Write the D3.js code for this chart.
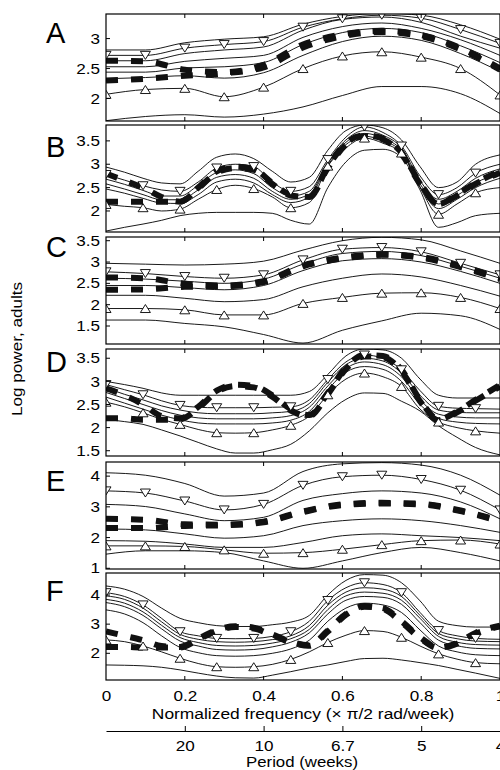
<!DOCTYPE html>
<html>
<head>
<meta charset="utf-8">
<script src="https://cdn.jsdelivr.net/npm/d3@7"></script>
<style>
  body { margin: 0; background: #fff; }
  svg { display: block; font-family: "Liberation Sans", Arial, sans-serif; }
</style>
</head>
<body>
<svg id="chart" width="500" height="770"></svg>
<script>
// frequency grids (x 0..1, units of pi/2 rad/week)
const freq11 = [0, 0.1, 0.2, 0.3, 0.4, 0.5, 0.6, 0.7, 0.8, 0.9, 1];
const freq22 = [0, 0.047, 0.094, 0.141, 0.188, 0.234, 0.281, 0.328, 0.375, 0.422, 0.469,
                0.516, 0.563, 0.609, 0.656, 0.703, 0.75, 0.797, 0.844, 0.891, 0.938, 1];

const xTicks = [0, 0.2, 0.4, 0.6, 0.8, 1];
const periodFreqs = [0.2, 0.4, 0.6, 0.8, 1];
const periodLabels = ['20', '10', '6.7', '5', '4'];

const yTicksA = [2, 2.5, 3];
const yTicksB = [2, 2.5, 3, 3.5];
const yTicksC = [1.5, 2, 2.5, 3, 3.5];
const yTicksD = [1.5, 2, 2.5, 3, 3.5];
const yTicksE = [1, 2, 3, 4];
const yTicksF = [2, 3, 4];

// thin quantile curves, top to bottom (2nd = down triangles, 2nd last = up triangles)
const linesA = [
  [2.81, 2.81, 2.93, 2.99, 3.03, 3.24, 3.37, 3.42, 3.39, 3.23, 2.99],
  [2.72, 2.72, 2.84, 2.9, 2.95, 3.19, 3.33, 3.39, 3.34, 3.15, 2.92],
  [2.63, 2.63, 2.75, 2.81, 2.86, 3.14, 3.32, 3.36, 3.27, 3.04, 2.84],
  [2.53, 2.53, 2.62, 2.67, 2.72, 3.02, 3.2, 3.26, 3.17, 2.98, 2.72],
  [2.44, 2.44, 2.51, 2.53, 2.6, 2.9, 3.1, 3.17, 3.1, 2.88, 2.6],
  [2.33, 2.35, 2.38, 2.34, 2.43, 2.72, 2.95, 3.04, 2.97, 2.75, 2.45],
  [2.07, 2.15, 2.17, 2.03, 2.19, 2.5, 2.71, 2.78, 2.69, 2.5, 2.06],
  [1.63, 1.7, 1.73, 1.69, 1.74, 1.86, 2.05, 2.2, 2.2, 2.08, 1.75]
];
const dashA = [
  [2.63, 2.62, 2.48, 2.44, 2.56, 2.9, 3.07, 3.13, 3.06, 2.84, 2.5],
  [2.3, 2.33, 2.38, 2.42, 2.52, 2.85, 3.04, 3.11, 3.04, 2.82, 2.48]
];

const linesB = [
  [2.94, 2.83, 2.7, 2.6, 2.58, 2.85, 3.15, 3.22, 3.12, 2.85, 2.62, 2.72, 3.3, 3.72, 3.84, 3.78, 3.52, 2.95, 2.5, 2.62, 3.0, 3.2],
  [2.78, 2.66, 2.54, 2.45, 2.42, 2.62, 2.92, 3.0, 2.95, 2.62, 2.42, 2.52, 3.1, 3.58, 3.8, 3.68, 3.39, 2.75, 2.35, 2.5, 2.81, 3.0],
  [2.68, 2.57, 2.44, 2.32, 2.32, 2.55, 2.82, 2.88, 2.8, 2.5, 2.32, 2.42, 3.05, 3.52, 3.72, 3.62, 3.35, 2.65, 2.25, 2.42, 2.7, 2.9],
  [2.58, 2.47, 2.35, 2.24, 2.24, 2.45, 2.72, 2.78, 2.7, 2.42, 2.25, 2.36, 3.02, 3.47, 3.66, 3.56, 3.3, 2.58, 2.15, 2.33, 2.6, 2.8],
  [2.47, 2.38, 2.27, 2.17, 2.16, 2.35, 2.62, 2.68, 2.6, 2.35, 2.18, 2.3, 2.98, 3.42, 3.6, 3.5, 3.27, 2.52, 2.05, 2.25, 2.5, 2.7],
  [2.14, 2.1, 2.07, 2.0, 2.04, 2.25, 2.46, 2.55, 2.48, 2.3, 2.07, 2.18, 2.96, 3.35, 3.56, 3.45, 3.24, 2.5, 1.93, 2.15, 2.39, 2.5],
  [1.57, 1.65, 1.72, 1.8, 1.9, 1.95, 1.97, 1.97, 1.97, 1.95, 1.8, 1.72, 2.5, 3.05, 3.3, 3.32, 3.15, 2.45, 1.65, 1.75, 1.9, 1.95]
];
const dashB = [
  [2.8, 2.65, 2.5, 2.3, 2.2, 2.5, 2.85, 2.95, 2.9, 2.6, 2.35, 2.3, 2.95, 3.45, 3.62, 3.55, 3.25, 2.6, 2.15, 2.35, 2.6, 2.85],
  [2.2, 2.2, 2.2, 2.2, 2.2, 2.48, 2.82, 2.92, 2.88, 2.58, 2.33, 2.3, 2.92, 3.42, 3.6, 3.53, 3.22, 2.58, 2.15, 2.33, 2.58, 2.82]
];

const linesC = [
  [2.97, 2.95, 2.93, 2.95, 3.02, 3.28, 3.5, 3.58, 3.52, 3.26, 2.97],
  [2.77, 2.73, 2.66, 2.62, 2.7, 3.05, 3.3, 3.34, 3.24, 2.97, 2.7],
  [2.62, 2.6, 2.55, 2.5, 2.6, 2.95, 3.2, 3.25, 3.15, 2.9, 2.62],
  [2.45, 2.45, 2.4, 2.35, 2.45, 2.8, 3.03, 3.08, 3.0, 2.78, 2.5],
  [2.22, 2.22, 2.15, 2.07, 2.12, 2.42, 2.62, 2.72, 2.65, 2.45, 2.2],
  [1.91, 1.91, 1.88, 1.76, 1.76, 2.03, 2.17, 2.27, 2.28, 2.17, 1.91],
  [1.64, 1.64, 1.56, 1.48, 1.3, 1.1, 1.4, 1.62, 1.8, 1.74, 1.42]
];
const dashC = [
  [2.64, 2.62, 2.49, 2.45, 2.55, 2.92, 3.1, 3.18, 3.12, 2.9, 2.62],
  [2.35, 2.36, 2.42, 2.43, 2.53, 2.9, 3.08, 3.17, 3.1, 2.88, 2.6]
];

const linesD = [
  [3.0, 2.93, 2.85, 2.75, 2.7, 2.7, 2.7, 2.7, 2.7, 2.7, 2.7, 2.78, 3.15, 3.55, 3.7, 3.68, 3.5, 3.05, 2.7, 2.64, 2.64, 2.64],
  [2.93, 2.82, 2.71, 2.58, 2.48, 2.44, 2.43, 2.43, 2.43, 2.44, 2.45, 2.6, 3.04, 3.42, 3.57, 3.5, 3.25, 2.8, 2.46, 2.42, 2.41, 2.4],
  [2.86, 2.72, 2.6, 2.47, 2.38, 2.32, 2.3, 2.3, 2.3, 2.32, 2.35, 2.52, 2.98, 3.36, 3.5, 3.44, 3.18, 2.7, 2.38, 2.33, 2.32, 2.32],
  [2.76, 2.63, 2.5, 2.37, 2.27, 2.21, 2.19, 2.19, 2.19, 2.21, 2.26, 2.44, 2.9, 3.28, 3.42, 3.36, 3.1, 2.6, 2.29, 2.23, 2.21, 2.21],
  [2.66, 2.53, 2.4, 2.27, 2.17, 2.1, 2.08, 2.08, 2.08, 2.1, 2.16, 2.35, 2.82, 3.2, 3.32, 3.26, 3.0, 2.5, 2.2, 2.12, 2.09, 2.08],
  [2.55, 2.45, 2.32, 2.18, 2.07, 1.96, 1.89, 1.88, 1.89, 1.95, 2.05, 2.25, 2.71, 3.05, 3.18, 3.1, 2.89, 2.4, 2.12, 2.0, 1.93, 1.88],
  [2.18, 2.13, 2.07, 1.95, 1.82, 1.68, 1.54, 1.45, 1.45, 1.52, 1.64, 1.93, 2.32, 2.61, 2.75, 2.74, 2.57, 2.36, 2.04, 1.79, 1.57, 1.41]
];
const dashD = [
  [2.85, 2.7, 2.5, 2.25, 2.2, 2.45, 2.8, 2.93, 2.9, 2.7, 2.4, 2.27, 2.75, 3.3, 3.57, 3.55, 3.25, 2.6, 2.18, 2.35, 2.6, 2.92],
  [2.2, 2.2, 2.17, 2.17, 2.18, 2.42, 2.77, 2.9, 2.87, 2.67, 2.37, 2.25, 2.72, 3.27, 3.54, 3.52, 3.22, 2.57, 2.16, 2.33, 2.58, 2.89]
];

const linesE = [
  [4.11, 4.03, 3.76, 3.35, 3.45, 4.15, 4.4, 4.44, 4.36, 4.03, 3.38],
  [3.52, 3.45, 3.19, 2.9, 3.08, 3.7, 3.98, 4.03, 3.89, 3.54, 2.9],
  [3.08, 3.01, 2.77, 2.55, 2.66, 3.21, 3.43, 3.52, 3.45, 3.16, 2.61],
  [2.28, 2.25, 2.12, 1.98, 2.06, 2.39, 2.55, 2.61, 2.55, 2.39, 2.17],
  [1.9, 1.88, 1.79, 1.68, 1.68, 1.84, 2.06, 2.12, 2.06, 2.0, 1.9],
  [1.73, 1.73, 1.71, 1.6, 1.49, 1.51, 1.62, 1.77, 1.9, 1.92, 1.79],
  [1.46, 1.57, 1.57, 1.51, 1.24, 1.0, 1.24, 1.51, 1.68, 1.51, 1.24]
];
const dashE = [
  [2.61, 2.58, 2.43, 2.42, 2.52, 2.85, 3.08, 3.13, 3.1, 2.88, 2.55],
  [2.31, 2.31, 2.38, 2.4, 2.5, 2.83, 3.06, 3.11, 3.08, 2.86, 2.53]
];

const linesF = [
  [4.31, 4.2, 3.95, 3.55, 3.2, 3.05, 2.95, 2.92, 2.92, 2.98, 3.07, 3.3, 4.0, 4.5, 4.7, 4.68, 4.42, 3.8, 3.1, 2.95, 2.9, 2.9],
  [4.08, 3.95, 3.66, 3.2, 2.74, 2.6, 2.51, 2.5, 2.51, 2.58, 2.74, 3.1, 3.81, 4.25, 4.42, 4.36, 4.08, 3.4, 2.78, 2.6, 2.51, 2.48],
  [3.97, 3.85, 3.55, 3.08, 2.65, 2.48, 2.4, 2.38, 2.4, 2.47, 2.6, 2.95, 3.65, 4.1, 4.25, 4.2, 3.95, 3.3, 2.68, 2.5, 2.42, 2.4],
  [3.85, 3.72, 3.42, 2.96, 2.54, 2.37, 2.27, 2.25, 2.27, 2.35, 2.5, 2.82, 3.5, 3.97, 4.1, 4.06, 3.82, 3.2, 2.58, 2.38, 2.3, 2.28],
  [3.74, 3.6, 3.3, 2.84, 2.42, 2.25, 2.13, 2.11, 2.13, 2.22, 2.38, 2.7, 3.35, 3.82, 3.95, 3.92, 3.68, 3.05, 2.45, 2.26, 2.17, 2.15],
  [3.49, 3.35, 3.05, 2.6, 2.2, 2.02, 1.92, 1.9, 1.92, 2.0, 2.15, 2.45, 3.1, 3.55, 3.72, 3.66, 3.4, 2.8, 2.25, 2.05, 1.95, 1.92],
  [2.46, 2.4, 2.25, 2.05, 1.83, 1.65, 1.54, 1.52, 1.54, 1.62, 1.79, 2.05, 2.37, 2.62, 2.78, 2.75, 2.55, 2.25, 1.98, 1.8, 1.68, 1.64],
  [1.6, 1.59, 1.57, 1.52, 1.43, 1.32, 1.22, 1.16, 1.15, 1.25, 1.37, 1.5, 1.6, 1.72, 1.82, 1.83, 1.77, 1.68, 1.58, 1.45, 1.32, 1.14]
];
const dashF = [
  [2.75, 2.6, 2.45, 2.25, 2.22, 2.5, 2.8, 2.93, 2.88, 2.65, 2.4, 2.28, 2.78, 3.35, 3.62, 3.55, 3.1, 2.55, 2.2, 2.35, 2.7, 2.95],
  [2.22, 2.22, 2.2, 2.2, 2.2, 2.47, 2.77, 2.9, 2.85, 2.62, 2.37, 2.26, 2.75, 3.32, 3.6, 3.52, 3.07, 2.52, 2.18, 2.33, 2.67, 2.92]
];

// layout
const svg = d3.select('#chart');
const left = 106, right = 500;
const panelH = 107;
const xScale = d3.scaleLinear().domain([0, 1]).range([left, right]);
const font = '"Liberation Sans", Arial, sans-serif';
const textStretch = 1.18;

const panels = [
  { letter: 'A', top: 14,  dom: [1.625, 3.41], ticks: yTicksA, freq: freq11, every: 1, lines: linesA, dash: dashA, letterY: 42.5 },
  { letter: 'B', top: 125, dom: [1.55, 3.84],  ticks: yTicksB, freq: freq22, every: 2, lines: linesB, dash: dashB, letterY: 156.5 },
  { letter: 'C', top: 237, dom: [1.078, 3.587], ticks: yTicksC, freq: freq11, every: 1, lines: linesC, dash: dashC, letterY: 256.5 },
  { letter: 'D', top: 349, dom: [1.386, 3.70], ticks: yTicksD, freq: freq22, every: 2, lines: linesD, dash: dashD, letterY: 371.5 },
  { letter: 'E', top: 462, dom: [0.977, 4.46], ticks: yTicksE, freq: freq11, every: 1, lines: linesE, dash: dashE, letterY: 490.5 },
  { letter: 'F', top: 573, dom: [1.084, 4.755], ticks: yTicksF, freq: freq22, every: 2, lines: linesF, dash: dashF, letterY: 600.5 }
];

const downTri = 'M-5,-4L5,-4L0,4Z';
const upTri = 'M-5,4L5,4L0,-4Z';

panels.forEach((p, pi) => {
  const yScale = d3.scaleLinear().domain(p.dom).range([p.top + panelH, p.top]);
  const g = svg.append('g').attr('class', `panel-${p.letter}`);

  g.append('clipPath').attr('id', `clip${pi}`)
    .append('rect')
    .attr('x', left).attr('y', p.top)
    .attr('width', right - left).attr('height', panelH);

  const plot = g.append('g').attr('clip-path', `url(#clip${pi})`);

  const line = d3.line()
    .x((d, i) => xScale(p.freq[i]))
    .y(d => yScale(d))
    .curve(d3.curveMonotoneX);

  // thin curves
  p.lines.forEach(vals => {
    plot.append('path')
      .attr('d', line(vals))
      .attr('fill', 'none')
      .attr('stroke', '#000')
      .attr('stroke-width', 0.9);
  });

  // thick dashed spectra
  p.dash.forEach(vals => {
    plot.append('path')
      .attr('d', line(vals))
      .attr('fill', 'none')
      .attr('stroke', '#111')
      .attr('stroke-width', 6)
      .attr('stroke-dasharray', '12,13');
  });

  // triangle markers
  const markerSets = [
    { vals: p.lines[1], shape: downTri },
    { vals: p.lines[p.lines.length - 2], shape: upTri }
  ];
  markerSets.forEach(m => {
    m.vals.forEach((v, i) => {
      if (i % p.every !== 0) return;
      plot.append('path')
        .attr('d', m.shape)
        .attr('transform', `translate(${xScale(p.freq[i])},${yScale(v)})`)
        .attr('fill', '#fff')
        .attr('stroke', '#000')
        .attr('stroke-width', 0.9);
    });
  });

  // frame
  g.append('rect')
    .attr('x', left).attr('y', p.top)
    .attr('width', right - left).attr('height', panelH)
    .attr('fill', 'none')
    .attr('stroke', '#000')
    .attr('stroke-width', 1.2);

  // inward ticks
  [0.2, 0.4, 0.6, 0.8].forEach(t => {
    const xx = xScale(t);
    g.append('line').attr('x1', xx).attr('x2', xx)
      .attr('y1', p.top).attr('y2', p.top + 4)
      .attr('stroke', '#000').attr('stroke-width', 1);
    g.append('line').attr('x1', xx).attr('x2', xx)
      .attr('y1', p.top + panelH).attr('y2', p.top + panelH - 4)
      .attr('stroke', '#000').attr('stroke-width', 1);
  });
  p.ticks.forEach(t => {
    g.append('line').attr('x1', left).attr('x2', left + 4)
      .attr('y1', yScale(t)).attr('y2', yScale(t))
      .attr('stroke', '#000').attr('stroke-width', 1);
  });

  // y tick labels
  const yAxis = g.append('g')
    .attr('transform', `translate(${left},0)`)
    .call(d3.axisLeft(yScale).tickValues(p.ticks).tickSize(0).tickPadding(5).tickFormat(d3.format('~g')));
  yAxis.select('.domain').remove();
  yAxis.selectAll('text')
    .attr('font-family', font)
    .attr('font-size', 14.5)
    .attr('fill', '#000')
    .attr('transform', `scale(${textStretch},1)`);

  // panel letter
  g.append('text')
    .attr('x', 46)
    .attr('y', p.letterY)
    .attr('font-family', font)
    .attr('font-size', 29)
    .attr('fill', '#000')
    .text(p.letter);
});

// frequency axis labels under the last panel
const bottom = panels[panels.length - 1].top + panelH;
const fAxis = svg.append('g')
  .attr('transform', `translate(0,${bottom})`)
  .call(d3.axisBottom(xScale).tickValues(xTicks).tickSize(0).tickPadding(11).tickFormat(d3.format('~g')));
fAxis.select('.domain').remove();
fAxis.selectAll('text')
  .attr('font-family', font)
  .attr('font-size', 14.5)
  .attr('fill', '#000')
  .attr('transform', `scale(${textStretch},1)`);

svg.append('text')
  .attr('transform', `translate(303,719) scale(1.2,1)`)
  .attr('text-anchor', 'middle')
  .attr('font-family', font)
  .attr('font-size', 14.5)
  .text('Normalized frequency (\u00d7 \u03c0/2 rad/week)');

// period axis
const pAxis = svg.append('g')
  .attr('transform', 'translate(0,731)')
  .call(d3.axisBottom(xScale).tickValues(periodFreqs)
    .tickFormat((d, i) => periodLabels[i])
    .tickSizeInner(-5).tickSizeOuter(0).tickPadding(9.5));
pAxis.select('.domain').attr('stroke', '#000').attr('stroke-width', 1.2);
pAxis.selectAll('.tick line').attr('stroke', '#000');
pAxis.selectAll('text')
  .attr('font-family', font)
  .attr('font-size', 14.5)
  .attr('fill', '#000')
  .attr('transform', `scale(${textStretch},1)`);

svg.append('text')
  .attr('transform', `translate(302,767) scale(1.2,1)`)
  .attr('text-anchor', 'middle')
  .attr('font-family', font)
  .attr('font-size', 14)
  .text('Period (weeks)');

// y label
svg.append('text')
  .attr('transform', 'translate(22,349) rotate(-90) scale(1.18,1)')
  .attr('text-anchor', 'middle')
  .attr('font-family', font)
  .attr('font-size', 14.5)
  .text('Log power, adults');
</script>
</body>
</html>
